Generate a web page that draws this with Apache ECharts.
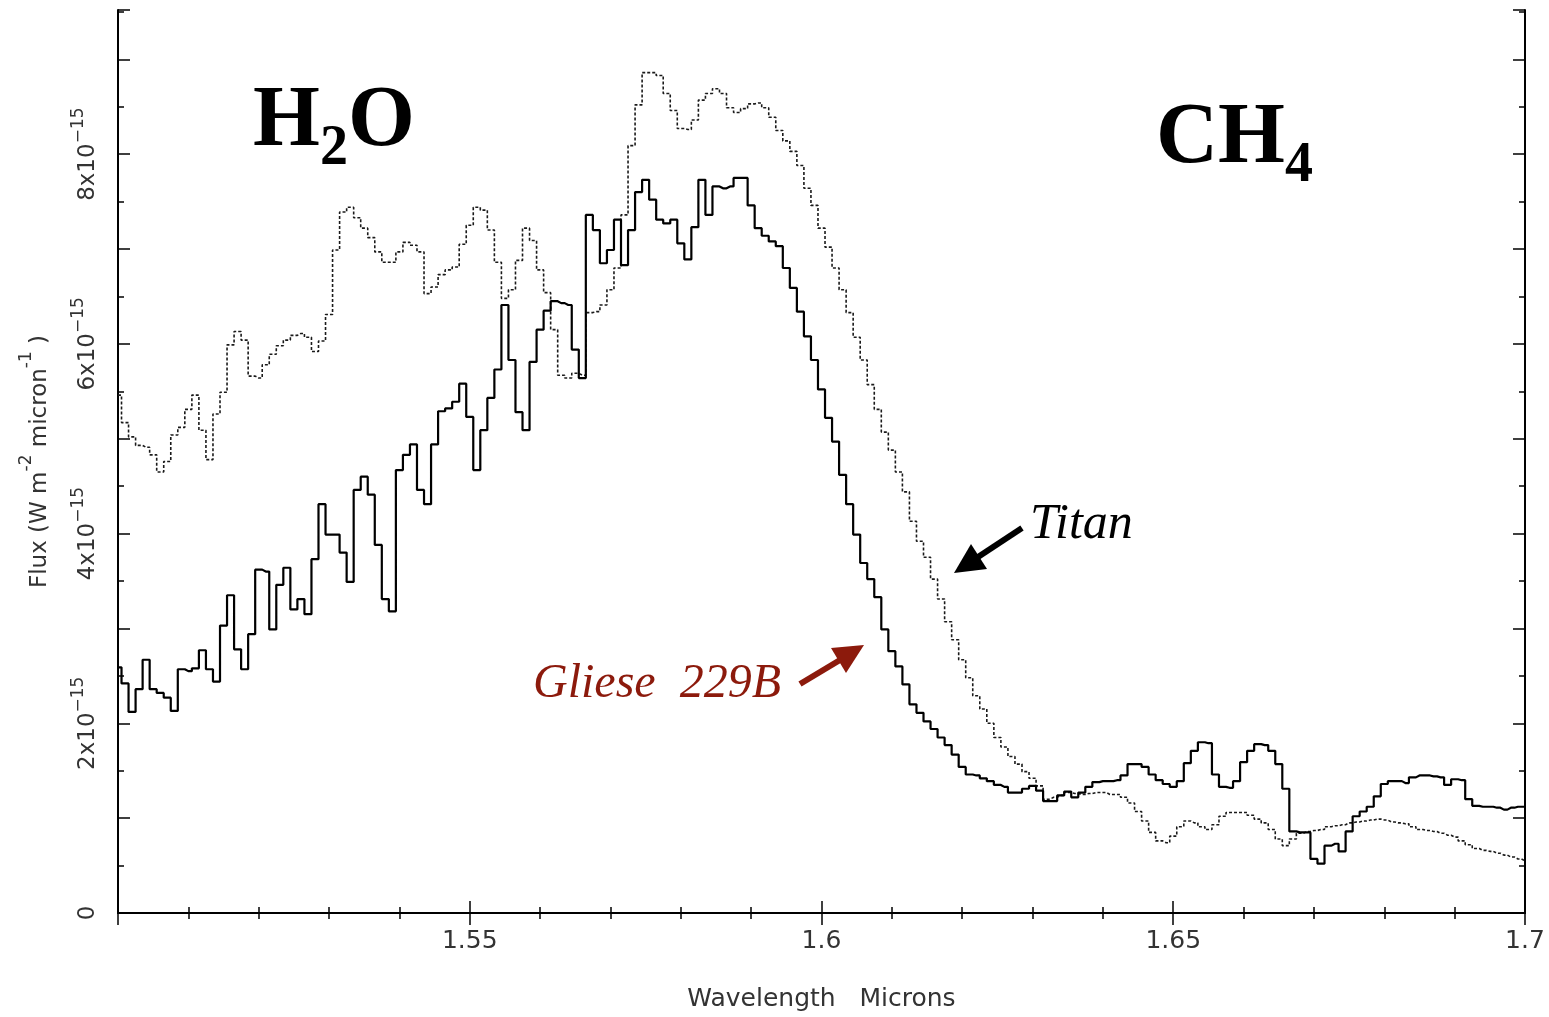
<!DOCTYPE html>
<html>
<head>
<meta charset="utf-8">
<script src="https://cdn.jsdelivr.net/npm/echarts@6/dist/echarts.min.js"></script>
<style>
  html, body { margin: 0; padding: 0; background: #fff; }
  #chart { width: 1549px; height: 1017px; }
</style>
</head>
<body>
<div id="chart"></div>
<script>
// wavelength grid, microns
const wavelengths = [
  1.500, 1.501, 1.502, 1.503, 1.504, 1.505, 1.506, 1.507, 1.508, 1.509,
  1.510, 1.511, 1.512, 1.513, 1.514, 1.515, 1.516, 1.517, 1.518, 1.519,
  1.520, 1.521, 1.522, 1.523, 1.524, 1.525, 1.526, 1.527, 1.528, 1.529,
  1.530, 1.531, 1.532, 1.533, 1.534, 1.535, 1.536, 1.537, 1.538, 1.539,
  1.540, 1.541, 1.542, 1.543, 1.544, 1.545, 1.546, 1.547, 1.548, 1.549,
  1.550, 1.551, 1.552, 1.553, 1.554, 1.555, 1.556, 1.557, 1.558, 1.559,
  1.560, 1.561, 1.562, 1.563, 1.564, 1.565, 1.566, 1.567, 1.568, 1.569,
  1.570, 1.571, 1.572, 1.573, 1.574, 1.575, 1.576, 1.577, 1.578, 1.579,
  1.580, 1.581, 1.582, 1.583, 1.584, 1.585, 1.586, 1.587, 1.588, 1.589,
  1.590, 1.591, 1.592, 1.593, 1.594, 1.595, 1.596, 1.597, 1.598, 1.599,
  1.600, 1.601, 1.602, 1.603, 1.604, 1.605, 1.606, 1.607, 1.608, 1.609,
  1.610, 1.611, 1.612, 1.613, 1.614, 1.615, 1.616, 1.617, 1.618, 1.619,
  1.620, 1.621, 1.622, 1.623, 1.624, 1.625, 1.626, 1.627, 1.628, 1.629,
  1.630, 1.631, 1.632, 1.633, 1.634, 1.635, 1.636, 1.637, 1.638, 1.639,
  1.640, 1.641, 1.642, 1.643, 1.644, 1.645, 1.646, 1.647, 1.648, 1.649,
  1.650, 1.651, 1.652, 1.653, 1.654, 1.655, 1.656, 1.657, 1.658, 1.659,
  1.660, 1.661, 1.662, 1.663, 1.664, 1.665, 1.666, 1.667, 1.668, 1.669,
  1.670, 1.671, 1.672, 1.673, 1.674, 1.675, 1.676, 1.677, 1.678, 1.679,
  1.680, 1.681, 1.682, 1.683, 1.684, 1.685, 1.686, 1.687, 1.688, 1.689,
  1.690, 1.691, 1.692, 1.693, 1.694, 1.695, 1.696, 1.697, 1.698, 1.699,
  1.700
];

// flux in units of 1e-15 W m^-2 micron^-1
const titanFlux = [
  5.46, 5.17, 5.02, 4.93, 4.91, 4.83, 4.65, 4.76, 5.04, 5.12,
  5.31, 5.46, 5.09, 4.78, 5.26, 5.49, 5.99, 6.13, 6.04, 5.66,
  5.64, 5.78, 5.89, 5.98, 6.04, 6.09, 6.11, 6.07, 5.92, 6.03,
  6.31, 6.99, 7.39, 7.44, 7.33, 7.22, 7.12, 6.97, 6.86, 6.86,
  6.97, 7.07, 7.04, 6.97, 6.53, 6.60, 6.73, 6.78, 6.81, 7.05,
  7.25, 7.44, 7.41, 7.20, 6.86, 6.48, 6.57, 6.88, 7.22, 7.09,
  6.78, 6.54, 6.15, 5.67, 5.64, 5.69, 5.67, 6.33, 6.34, 6.41,
  6.57, 6.80, 7.36, 8.09, 8.52, 8.86, 8.86, 8.83, 8.64, 8.46,
  8.27, 8.26, 8.36, 8.57, 8.64, 8.69, 8.64, 8.49, 8.44, 8.48,
  8.53, 8.54, 8.49, 8.39, 8.25, 8.14, 8.03, 7.88, 7.64, 7.46,
  7.22, 7.02, 6.80, 6.57, 6.33, 6.07, 5.83, 5.57, 5.31, 5.07,
  4.88, 4.65, 4.44, 4.13, 3.92, 3.75, 3.52, 3.31, 3.07, 2.88,
  2.67, 2.48, 2.29, 2.15, 2.00, 1.85, 1.75, 1.65, 1.57, 1.49,
  1.42, 1.34, 1.20, 1.22, 1.24, 1.27, 1.26, 1.25, 1.26, 1.27,
  1.27, 1.25, 1.25, 1.22, 1.16, 1.07, 0.97, 0.85, 0.76, 0.74,
  0.81, 0.91, 0.97, 0.95, 0.91, 0.88, 0.93, 1.02, 1.06, 1.06,
  1.06, 1.03, 0.99, 0.95, 0.88, 0.78, 0.71, 0.78, 0.84, 0.86,
  0.87, 0.88, 0.91, 0.92, 0.93, 0.95, 0.96, 0.97, 0.98, 0.99,
  0.98, 0.96, 0.95, 0.94, 0.91, 0.88, 0.87, 0.86, 0.84, 0.82,
  0.80, 0.76, 0.72, 0.68, 0.66, 0.65, 0.63, 0.61, 0.59, 0.57,
  0.55
];

const glieseFlux = [
  2.59, 2.42, 2.12, 2.36, 2.67, 2.36, 2.32, 2.27, 2.13, 2.57,
  2.55, 2.58, 2.77, 2.57, 2.44, 3.03, 3.35, 2.78, 2.57, 2.94,
  3.62, 3.60, 2.99, 3.46, 3.64, 3.20, 3.31, 3.15, 3.73, 4.31,
  3.99, 3.99, 3.80, 3.49, 4.46, 4.60, 4.41, 3.88, 3.31, 3.18,
  4.67, 4.83, 4.94, 4.46, 4.31, 4.94, 5.29, 5.32, 5.39, 5.58,
  5.23, 4.67, 5.09, 5.43, 5.73, 6.41, 5.83, 5.28, 5.09, 5.81,
  6.15, 6.35, 6.45, 6.43, 6.41, 5.94, 5.64, 7.36, 7.20, 6.85,
  6.99, 7.31, 6.83, 7.20, 7.60, 7.73, 7.52, 7.31, 7.27, 7.31,
  7.06, 6.89, 7.23, 7.73, 7.36, 7.66, 7.64, 7.66, 7.75, 7.75,
  7.46, 7.22, 7.14, 7.08, 7.03, 6.80, 6.59, 6.34, 6.08, 5.83,
  5.52, 5.22, 4.97, 4.62, 4.31, 3.99, 3.69, 3.52, 3.33, 2.99,
  2.76, 2.60, 2.41, 2.20, 2.11, 2.02, 1.94, 1.85, 1.77, 1.67,
  1.54, 1.46, 1.45, 1.42, 1.39, 1.35, 1.33, 1.27, 1.27, 1.31,
  1.34, 1.29, 1.18, 1.18, 1.24, 1.28, 1.22, 1.27, 1.33, 1.38,
  1.39, 1.39, 1.40, 1.45, 1.57, 1.57, 1.54, 1.46, 1.40, 1.36,
  1.33, 1.39, 1.58, 1.71, 1.80, 1.79, 1.46, 1.33, 1.32, 1.39,
  1.59, 1.71, 1.78, 1.77, 1.71, 1.57, 1.31, 0.86, 0.85, 0.85,
  0.57, 0.52, 0.71, 0.73, 0.65, 0.86, 1.02, 1.07, 1.12, 1.23,
  1.36, 1.39, 1.39, 1.37, 1.43, 1.45, 1.45, 1.44, 1.43, 1.35,
  1.41, 1.40, 1.20, 1.13, 1.12, 1.12, 1.11, 1.09, 1.11, 1.12,
  1.12
];

const yLabelValues = [0, 2, 4, 6, 8];

const labelFont = "'DejaVu Sans', sans-serif";
const serifFont = "'Liberation Serif', 'DejaVu Serif', serif";

function pairs(xs, ys) {
  return xs.map((x, i) => [x, ys[i]]);
}

const chart = echarts.init(document.getElementById('chart'));

const option = {
  animation: false,
  backgroundColor: '#fff',
  grid: { left: 118, right: 24, top: 10, bottom: 103 },
  xAxis: [{
    type: 'value',
    min: 1.5,
    max: 1.7,
    interval: 0.05,
    name: 'Wavelength   Microns',
    nameLocation: 'middle',
    nameGap: 74,
    nameTextStyle: { fontFamily: labelFont, fontSize: 25, color: '#333' },
    axisLine: { lineStyle: { color: '#000', width: 2 } },
    axisTick: { inside: true, length: 12, lineStyle: { color: '#000', width: 1.5 } },
    minorTick: { show: true, splitNumber: 5, length: 6, lineStyle: { color: '#000', width: 1.5 } },
    splitLine: { show: false },
    axisLabel: {
      fontFamily: labelFont,
      fontSize: 25,
      color: '#333',
      margin: 16,
      formatter: (v) => (Math.abs(v - 1.5) < 1e-9 ? '' : String(+v.toFixed(2)))
    }
  }, {
    type: 'value',
    position: 'top',
    min: 1.5,
    max: 1.7,
    interval: 0.05,
    axisLine: { lineStyle: { color: '#000', width: 2 } },
    axisTick: { inside: true, length: 12, lineStyle: { color: '#000', width: 1.5 } },
    minorTick: { show: true, splitNumber: 5, length: 6, lineStyle: { color: '#000', width: 1.5 } },
    splitLine: { show: false },
    axisLabel: { show: false }
  }],
  yAxis: [{
    type: 'value',
    min: 0,
    max: 9.52,
    interval: 1,
    name: '{t|Flux (W m}{s|-2}{t| micron}{s|-1}{t| )}',
    nameLocation: 'middle',
    nameGap: 66,
    nameRotate: 90,
    nameTextStyle: {
      rich: {
        t: { fontFamily: labelFont, fontSize: 23, color: '#333', verticalAlign: 'bottom', lineHeight: 34 },
        s: { fontFamily: labelFont, fontSize: 17, color: '#333', verticalAlign: 'top', lineHeight: 34 }
      }
    },
    axisLine: { lineStyle: { color: '#000', width: 2 } },
    axisTick: { inside: true, length: 12, lineStyle: { color: '#000', width: 1.5 } },
    minorTick: { show: true, splitNumber: 2, length: 6, lineStyle: { color: '#000', width: 1.5 } },
    splitLine: { show: false },
    axisLabel: {
      rotate: 90,
      margin: 18,
      formatter: (v) => {
        if (!yLabelValues.includes(v)) return '';
        if (v === 0) return '{a|0}';
        return '{a|' + v + 'x10}{s|\u221215}';
      },
      rich: {
        a: { fontFamily: labelFont, fontSize: 23, color: '#333', verticalAlign: 'bottom', lineHeight: 30 },
        s: { fontFamily: labelFont, fontSize: 17, color: '#333', verticalAlign: 'top', lineHeight: 30 }
      }
    }
  }, {
    type: 'value',
    position: 'right',
    min: 0,
    max: 9.52,
    interval: 1,
    axisLine: { show: true, lineStyle: { color: '#000', width: 2 } },
    axisTick: { show: true, inside: true, length: 12, lineStyle: { color: '#000', width: 1.5 } },
    minorTick: { show: true, splitNumber: 2, length: 6, lineStyle: { color: '#000', width: 1.5 } },
    splitLine: { show: false },
    axisLabel: { show: false }
  }],
  series: [{
    name: 'Titan',
    type: 'line',
    step: 'middle',
    showSymbol: false,
    data: pairs(wavelengths, titanFlux),
    lineStyle: { color: '#1a1a1a', width: 1.6, type: [3, 2] },
    z: 2
  }, {
    name: 'Gliese 229B',
    type: 'line',
    step: 'middle',
    showSymbol: false,
    data: pairs(wavelengths, glieseFlux),
    lineStyle: { color: '#000', width: 2.2 },
    z: 3
  }],
  graphic: [
    {
      type: 'text', left: 253, top: 80,
      style: {
        text: '{b|H}{u|2}{b|O}',
        rich: {
          b: { fontFamily: serifFont, fontWeight: 'bold', fontSize: 86, fill: '#000', lineHeight: 98, verticalAlign: 'top' },
          u: { fontFamily: serifFont, fontWeight: 'bold', fontSize: 56, fill: '#000', lineHeight: 98, verticalAlign: 'bottom' }
        }
      }
    },
    {
      type: 'text', left: 1156, top: 97,
      style: {
        text: '{b|CH}{u|4}',
        rich: {
          b: { fontFamily: serifFont, fontWeight: 'bold', fontSize: 86, fill: '#000', lineHeight: 98, verticalAlign: 'top' },
          u: { fontFamily: serifFont, fontWeight: 'bold', fontSize: 56, fill: '#000', lineHeight: 98, verticalAlign: 'bottom' }
        }
      }
    },
    {
      type: 'text', left: 1030, top: 500,
      style: { text: 'Titan', font: 'italic 50px ' + serifFont, fill: '#000' }
    },
    {
      type: 'text', left: 533, top: 660,
      style: { text: 'Gliese  229B', font: 'italic 48px ' + serifFont, fill: '#8c1a0c' }
    },
    // Titan arrow
    {
      type: 'line',
      shape: { x1: 1022, y1: 528, x2: 978, y2: 557 },
      style: { stroke: '#000', lineWidth: 6 }
    },
    {
      type: 'polygon',
      shape: { points: [[954, 573], [987, 569], [971, 544]] },
      style: { fill: '#000' }
    },
    // Gliese arrow
    {
      type: 'line',
      shape: { x1: 800, y1: 684, x2: 840, y2: 660 },
      style: { stroke: '#8c1a0c', lineWidth: 6 }
    },
    {
      type: 'polygon',
      shape: { points: [[864, 645], [846, 673], [831, 648]] },
      style: { fill: '#8c1a0c' }
    }
  ]
};

chart.setOption(option);
</script>
</body>
</html>
